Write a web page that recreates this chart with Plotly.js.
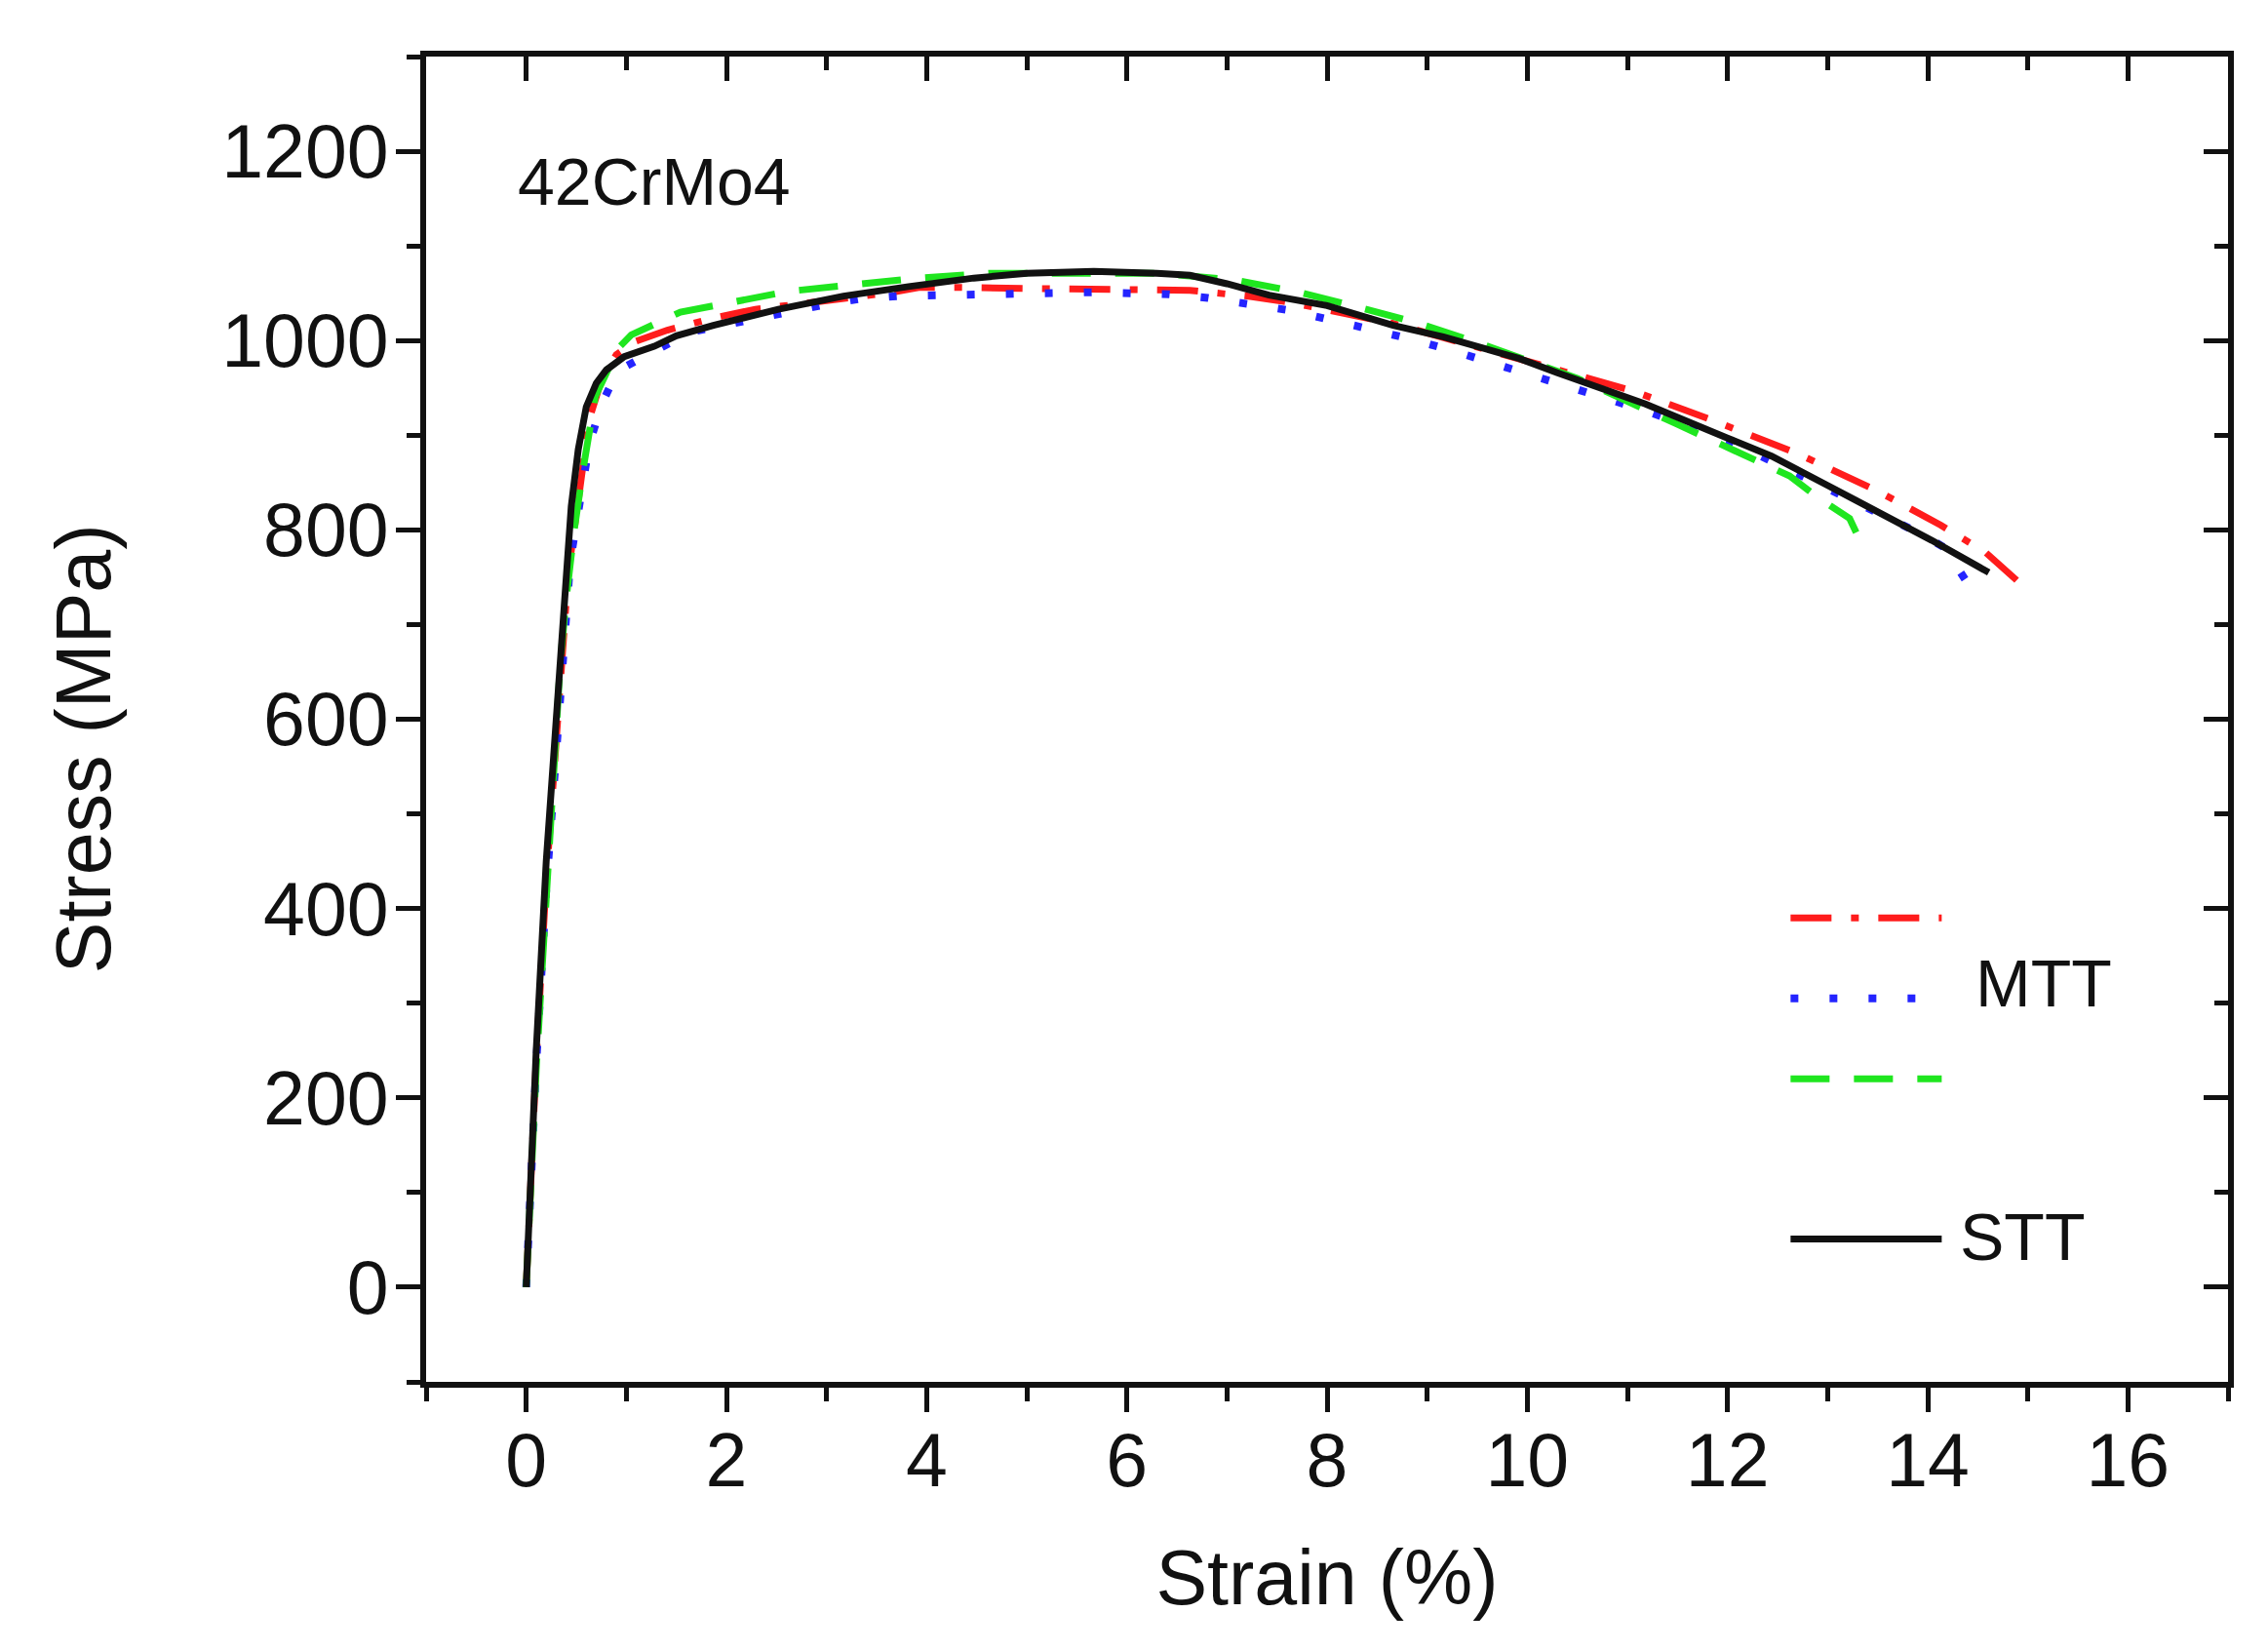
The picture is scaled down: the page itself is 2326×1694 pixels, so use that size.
<!DOCTYPE html>
<html>
<head>
<meta charset="utf-8">
<script src="https://cdn.plot.ly/plotly-3.0.1.min.js"></script>
<style>
  html, body { margin: 0; padding: 0; background: #fff; }
  #plot { width: 2326px; height: 1694px; }
</style>
</head>
<body>
<div id="plot"></div>
<script>
// DATA =========================================================
// STT (black solid)
var sttStrain = [0, 0.1, 0.2, 0.3, 0.38, 0.45, 0.52, 0.6, 0.7, 0.8, 0.98, 1.28, 1.5, 1.87, 2.52, 3.17, 3.82, 4.47, 5.0, 5.67, 6.3, 6.63, 7.0, 7.42, 8.0, 8.66, 9.16, 9.92, 10.3, 11.18, 12.0, 12.44, 13.0, 13.7, 14.04, 14.61];
var sttStress = [0, 250, 450, 610, 730, 825, 885, 930, 955, 969, 983, 994, 1005, 1016, 1033, 1047, 1057, 1066, 1071, 1073, 1071, 1069, 1060, 1048, 1037, 1016, 1004, 981, 966, 933, 897, 878, 847, 808, 789, 755];

// MTT specimen 1 (red dash-dot)
var mtt1Strain = [0, 0.1, 0.2, 0.3, 0.42, 0.52, 0.63, 0.76, 0.9, 1.09, 1.41, 1.84, 2.29, 3.6, 3.92, 4.34, 5.5, 6.63, 7.2, 7.65, 8.66, 9.5, 10.23, 11.05, 11.87, 12.69, 13.5, 14.13, 14.58, 14.95];
var mtt1Stress = [0, 240, 430, 590, 755, 831, 917, 961, 985, 999, 1011, 1023, 1033, 1050, 1056, 1056, 1055, 1053, 1047, 1040, 1018, 993, 971, 947, 915, 881, 841, 805, 776, 741];

// MTT specimen 2 (blue dotted)
var mtt2Strain = [0, 0.1, 0.2, 0.3, 0.37, 0.44, 0.63, 0.76, 0.91, 1.64, 2.94, 3.33, 3.72, 4.11, 4.5, 4.89, 5.26, 5.65, 6.03, 6.42, 6.81, 7.2, 7.62, 8.03, 8.44, 8.82, 9.23, 9.6, 9.98, 10.39, 10.8, 11.18, 12.0, 12.5, 13.0, 13.5, 13.95, 14.17, 14.39];
var mtt2Stress = [0, 235, 420, 575, 687, 767, 891, 934, 968, 1009, 1037, 1044, 1047, 1048, 1050, 1051, 1051, 1051, 1050, 1049, 1045, 1038, 1032, 1022, 1012, 1002, 990, 978, 965, 953, 940, 926, 895, 870, 843, 818, 795, 781, 745];

// MTT specimen 3 (green dashed)
var mtt3Strain = [0, 0.1, 0.2, 0.34, 0.4, 0.48, 0.57, 0.69, 0.92, 1.05, 1.54, 2.19, 2.62, 3.27, 3.92, 4.62, 6.33, 7.07, 7.68, 8.25, 8.86, 9.47, 10.5, 11.49, 12.12, 12.62, 12.88, 13.22, 13.38];
var mtt3Stress = [0, 230, 410, 659, 728, 800, 865, 941, 992, 1006, 1030, 1044, 1052, 1059, 1066, 1071, 1071, 1064, 1052, 1037, 1020, 999, 960, 912, 881, 857, 836, 812, 776];

var xRange = [-1, 17];
var yRange = [-100, 1300];

// STYLE ========================================================
var FONT = 'Liberation Sans, Arial, sans-serif';
var INK = '#111111';
var RED = '#ff1c1c', BLUE = '#2424ff', GREEN = '#1fe61f';
var DASH_RED = '42px,20px,8px,20px';
var DASH_BLUE = '8px,32px';
var DASH_GREEN = '40px,25px';

function curve(x, y, color, width, dash) {
    return {
        x: x, y: y, type: 'scatter', mode: 'lines',
        line: { color: color, width: width, dash: dash },
        showlegend: false, hoverinfo: 'skip'
    };
}

var data = [
    curve(mtt1Strain, mtt1Stress, RED, 7, DASH_RED),
    curve(mtt2Strain, mtt2Stress, BLUE, 8, DASH_BLUE),
    curve(mtt3Strain, mtt3Stress, GREEN, 7, DASH_GREEN),
    curve(sttStrain, sttStress, INK, 7, 'solid')
];
// invisible copy so the mirrored top/right axes get drawn
var ghost = curve(sttStrain, sttStress, 'rgba(0,0,0,0)', 0, 'solid');
ghost.xaxis = 'x2';
ghost.yaxis = 'y2';
data.push(ghost);

var axisBase = {
    showgrid: false, zeroline: false,
    showline: true, linecolor: INK, linewidth: 6,
    tickcolor: INK, tickwidth: 5, ticklen: 25,
    tickfont: { family: FONT, size: 77, color: INK }
};

function axis(extra) {
    return Object.assign({}, axisBase, extra);
}

var minorOut = function (d) { return { dtick: d, tick0: 0, ticks: 'outside', ticklen: 14, tickwidth: 5, tickcolor: INK }; };
var minorIn = function (d) { return { dtick: d, tick0: 0, ticks: 'inside', ticklen: 14, tickwidth: 5, tickcolor: INK }; };

var layout = {
    width: 2326, height: 1694,
    paper_bgcolor: '#fff', plot_bgcolor: '#fff',
    margin: { l: 437, r: 41, t: 58, b: 277 },
    xaxis: axis({
        range: xRange, tick0: 0, dtick: 2, ticks: 'outside',
        ticklabelstandoff: -16,
        minor: minorOut(1),
        title: { text: 'Strain (%)', font: { family: FONT, size: 79, color: INK }, standoff: 52 }
    }),
    yaxis: axis({
        range: yRange, tick0: 0, dtick: 200, ticks: 'outside',
        ticklabelstandoff: -8,
        minor: minorOut(100)
    }),
    xaxis2: axis({
        overlaying: 'x', side: 'top', anchor: 'y2', range: xRange,
        tick0: 0, dtick: 2, ticks: 'inside', showticklabels: false,
        minor: minorIn(1)
    }),
    yaxis2: axis({
        overlaying: 'y', side: 'right', anchor: 'x2', range: yRange,
        tick0: 0, dtick: 200, ticks: 'inside', showticklabels: false,
        minor: minorIn(100)
    }),
    // hand-made legend: three MTT samples share one label
    shapes: [
        { type: 'line', xref: 'x', yref: 'y', x0: 12.63, x1: 14.14, y0: 390, y1: 390, line: { color: RED, width: 7, dash: DASH_RED } },
        { type: 'line', xref: 'x', yref: 'y', x0: 12.63, x1: 14.14, y0: 305, y1: 305, line: { color: BLUE, width: 8, dash: DASH_BLUE } },
        { type: 'line', xref: 'x', yref: 'y', x0: 12.63, x1: 14.14, y0: 220, y1: 220, line: { color: GREEN, width: 7, dash: DASH_GREEN } },
        { type: 'line', xref: 'x', yref: 'y', x0: 12.63, x1: 14.14, y0: 51, y1: 51, line: { color: INK, width: 7 } }
    ],
    annotations: [
        { text: 'Stress (MPa)', xref: 'paper', yref: 'paper', x: -0.19, y: 0.478, xanchor: 'center', yanchor: 'middle', textangle: -90, showarrow: false, font: { family: FONT, size: 79, color: INK } },
        { text: '42CrMo4', xref: 'x', yref: 'y', x: -0.1, y: 1168, xanchor: 'left', yanchor: 'middle', showarrow: false, font: { family: FONT, size: 68, color: INK } },
        { text: 'MTT', xref: 'x', yref: 'y', x: 14.46, y: 321, xanchor: 'left', yanchor: 'middle', showarrow: false, font: { family: FONT, size: 68, color: INK } },
        { text: 'STT', xref: 'x', yref: 'y', x: 14.3, y: 53, xanchor: 'left', yanchor: 'middle', showarrow: false, font: { family: FONT, size: 68, color: INK } }
    ]
};

Plotly.newPlot('plot', data, layout, { displayModeBar: false, staticPlot: true });
</script>
</body>
</html>
